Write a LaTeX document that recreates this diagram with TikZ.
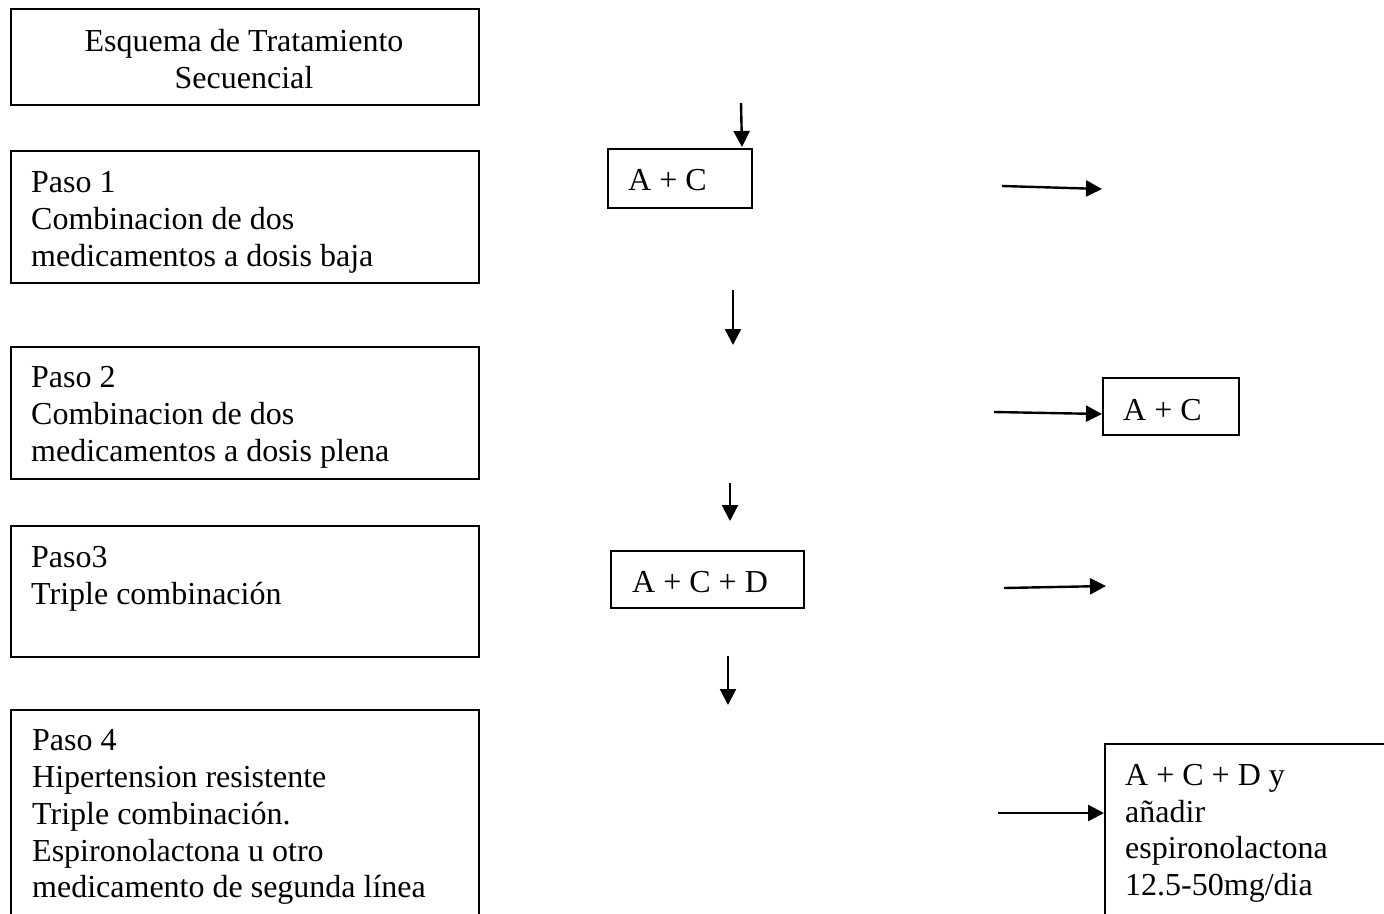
\documentclass[tikz,border=0pt]{standalone}
\usepackage{fontspec}
\setmainfont{Liberation Serif}
\usetikzlibrary{arrows.meta}
\begin{document}
\begin{tikzpicture}[x=1pt, y=-1pt,
		font=\fontsize{32}{36.8}\selectfont,
		box/.style={draw, line width=1.8pt, inner sep=0pt, anchor=north west},
		txt/.style={inner sep=0pt, anchor=north west, align=left},
		arr/.style={line width=2.4pt, -{Triangle[length=16pt, width=16pt]}}]
		\useasboundingbox (0,0) rectangle (1384,913);
		\clip (0,0) rectangle (1384,913);
		
		% Left column: steps
		\node[box, minimum width=468pt, minimum height=96pt] (esq) at (10,8) {};
		\node[txt, anchor=north, align=center] (esqt) at (244,29) {Esquema de Tratamiento\\Secuencial};
		\node[box, minimum width=468pt, minimum height=132pt] (paso1) at (10,150) {};
		\node[txt] (paso1t) at (31,171.5) {Paso 1\\Combinacion de dos\\medicamentos a dosis baja};
		\node[box, minimum width=468pt, minimum height=132pt] (paso2) at (10,346) {};
		\node[txt] (paso2t) at (31,366.5) {Paso 2\\Combinacion de dos\\medicamentos a dosis plena};
		\node[box, minimum width=468pt, minimum height=131pt] (paso3) at (10,525) {};
		\node[txt] (paso3t) at (31,546.5) {Paso3\\Triple combinación};
		\node[box, minimum width=468pt, minimum height=260pt] (paso4) at (10,709) {};
		\node[txt] (paso4t) at (32,729.5) {Paso 4\\Hipertension resistente\\Triple combinación.\\Espironolactona u otro\\medicamento de segunda línea};
		
		% Middle column
		\node[box, minimum width=144pt, minimum height=59pt] (ac1) at (607,148) {};
		\node[txt] (ac1t) at (628,169) {A + C};
		\node[box, minimum width=193pt, minimum height=57pt] (acd) at (610,550) {};
		\node[txt] (acdt) at (632,571) {A + C + D};
		
		% Right column
		\node[box, minimum width=136pt, minimum height=57pt] (ac2) at (1102,377) {};
		\node[txt] (ac2t) at (1123,399) {A + C};
		\node[box, minimum width=320pt, minimum height=230pt] (esp) at (1104,743) {};
		\node[txt] (espt) at (1125,764) {A + C + D y\\añadir\\espironolactona\\12.5-50mg/dia};
		
		% Arrow ends
		\coordinate (d1a) at (741,103);
		\coordinate (d1b) at (742,147);
		\coordinate (d2a) at (733,290);
		\coordinate (d2b) at (733,345);
		\coordinate (d3a) at (730,483);
		\coordinate (d3b) at (730,521);
		\coordinate (d4a) at (728,656);
		\coordinate (d4b) at (728,705);
		\coordinate (r1a) at (1002,186);
		\coordinate (r1b) at (1102,189);
		\coordinate (r2a) at (994,412);
		\coordinate (r3a) at (1004,588);
		\coordinate (r3b) at (1106,586);
		\coordinate (r4a) at (998,813);
		
		% Draw arrows
		\foreach \s/\t in {d1a/d1b, d2a/d2b, d3a/d3b, d4a/d4b, r1a/r1b, r3a/r3b}
		\draw[arr] (\s) -- (\t);
		\draw[arr] (r2a) -- (ac2.west |- 0,414);
		\draw[arr] (r4a) -- (esp.west |- r4a);
	\end{tikzpicture}
\end{document}
